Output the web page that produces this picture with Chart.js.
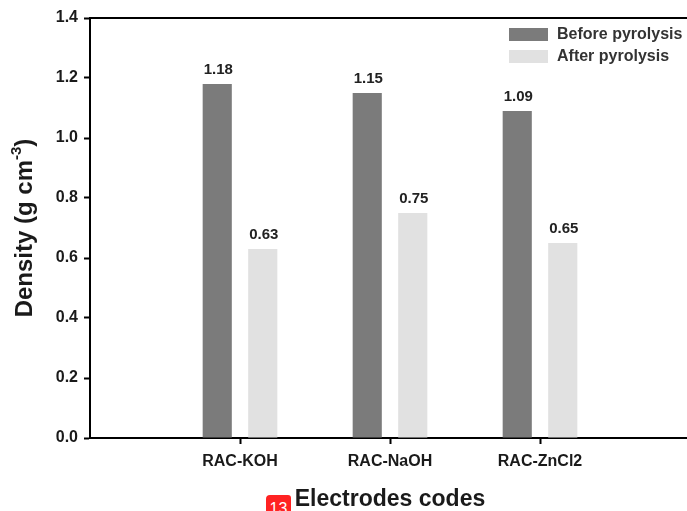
<!DOCTYPE html>
<html>
<head>
<meta charset="utf-8">
<script src="https://cdn.jsdelivr.net/npm/chart.js@4.4.1/dist/chart.umd.min.js"></script>
<style>
  html, body { margin: 0; padding: 0; background: #fff; overflow: hidden; width: 687px; height: 511px; }
  #wrap { position: relative; width: 698px; height: 511px; }
  #badge { position: absolute; left: 266px; top: 495px; width: 25px; height: 16px; background: #f22; color: #fff;
           font: 16px "Liberation Sans", Arial, sans-serif; text-align: center; line-height: 28px; overflow: hidden; border-radius: 4px 3px 0 0; }
</style>
</head>
<body>
<div id="wrap">
  <canvas id="myChart" width="698" height="511"></canvas>
  <div id="badge">13</div>
</div>
<script>
// empty slots at both ends keep the axis running past the outer groups
var categories = ["", "RAC-KOH", "RAC-NaOH", "RAC-ZnCl2", ""];
var beforeValues = [null, 1.18, 1.15, 1.09, null];
var afterValues = [null, 0.63, 0.75, 0.65, null];
var seriesNames = ["Before pyrolysis", "After pyrolysis"];
var barColors = ["#7b7b7b", "#e1e1e1"];
var yTicks = [0, 0.2, 0.4, 0.6, 0.8, 1.0, 1.2, 1.4];

var fontFam = '"Liberation Sans", Arial, sans-serif';

var extras = {
  id: "extras",
  afterDatasetsDraw: function(chart) {
    var ctx = chart.ctx;
    var area = chart.chartArea;
    ctx.save();

    // top frame line
    ctx.strokeStyle = "#000";
    ctx.lineWidth = 2;
    ctx.beginPath();
    ctx.moveTo(area.left - 1, area.top);
    ctx.lineTo(area.right + 2, area.top);
    ctx.stroke();

    // value labels over bars
    ctx.fillStyle = "#222";
    ctx.font = "bold 15px " + fontFam;
    ctx.textAlign = "center";
    ctx.textBaseline = "alphabetic";
    chart.data.datasets.forEach(function(ds, di) {
      chart.getDatasetMeta(di).data.forEach(function(bar, i) {
        if (ds.data[i] == null) return;
        ctx.fillText(ds.data[i].toFixed(2), bar.x + 1, bar.y - 10);
      });
    });

    // legend
    ctx.font = "bold 16px " + fontFam;
    ctx.textAlign = "left";
    ctx.textBaseline = "middle";
    chart.data.datasets.forEach(function(ds, di) {
      var y = 28 + di * 22;
      ctx.fillStyle = ds.backgroundColor;
      ctx.fillRect(509, y, 39, 13);
      ctx.fillStyle = "#333";
      ctx.fillText(ds.label, 557, y + 7);
    });

    // y title with superscript
    var main = "Density (g cm";
    var sup = "-3";
    var tail = ")";
    ctx.translate(32, (area.top + area.bottom) / 2);
    ctx.rotate(-Math.PI / 2);
    ctx.fillStyle = "#1a1a1a";
    ctx.textBaseline = "alphabetic";
    ctx.font = "bold 24px " + fontFam;
    var w1 = ctx.measureText(main).width;
    var w3 = ctx.measureText(tail).width;
    ctx.font = "bold 15px " + fontFam;
    var w2 = ctx.measureText(sup).width;
    var x0 = -(w1 + w2 + w3) / 2;
    ctx.font = "bold 24px " + fontFam;
    ctx.fillText(main, x0, 0);
    ctx.fillText(tail, x0 + w1 + w2, 0);
    ctx.font = "bold 15px " + fontFam;
    ctx.fillText(sup, x0 + w1, -11);
    ctx.restore();
  }
};

new Chart("myChart", {
  type: "bar",
  data: {
    labels: categories,
    datasets: [{
      label: seriesNames[0],
      backgroundColor: barColors[0],
      data: beforeValues
    }, {
      label: seriesNames[1],
      backgroundColor: barColors[1],
      data: afterValues
    }]
  },
  options: {
    responsive: false,
    animation: false,
    layout: { padding: { top: 18, right: 1, left: 0, bottom: 0 } },
    datasets: { bar: { categoryPercentage: 0.607, barPercentage: 0.64 } },
    plugins: {
      legend: { display: false },
      tooltip: { enabled: false }
    },
    scales: {
      x: {
        offset: false,
        grid: {
          offset: false,
          drawOnChartArea: false,
          tickLength: 6,
          tickWidth: 2,
          color: function(c) {
            return (c.index === 0 || c.index === categories.length - 1) ? "rgba(0,0,0,0)" : "#000";
          }
        },
        border: { display: true, color: "#000", width: 2 },
        ticks: {
          color: "#1a1a1a",
          padding: 8,
          maxRotation: 0,
          autoSkip: false,
          font: { family: fontFam, size: 16, weight: "bold" }
        },
        title: {
          display: true,
          text: "Electrodes codes",
          color: "#1a1a1a",
          padding: { top: 0, bottom: 0 },
          font: { family: fontFam, size: 23, weight: "bold", lineHeight: 1 }
        },
        afterFit: function(s) { s.height = 73; }
      },
      y: {
        min: 0,
        max: 1.4,
        afterBuildTicks: function(s) {
          s.ticks = yTicks.map(function(v) { return { value: v }; });
        },
        grid: { drawOnChartArea: false, tickLength: 6, tickWidth: 2, color: "#000" },
        border: { display: true, color: "#000", width: 2 },
        ticks: {
          color: "#1a1a1a",
          padding: 6,
          font: { family: fontFam, size: 16, weight: "bold" },
          callback: function(v) { return Number(v).toFixed(1); }
        },
        afterFit: function(s) { s.width = 90; }
      }
    }
  },
  plugins: [extras]
});
</script>
</body>
</html>
